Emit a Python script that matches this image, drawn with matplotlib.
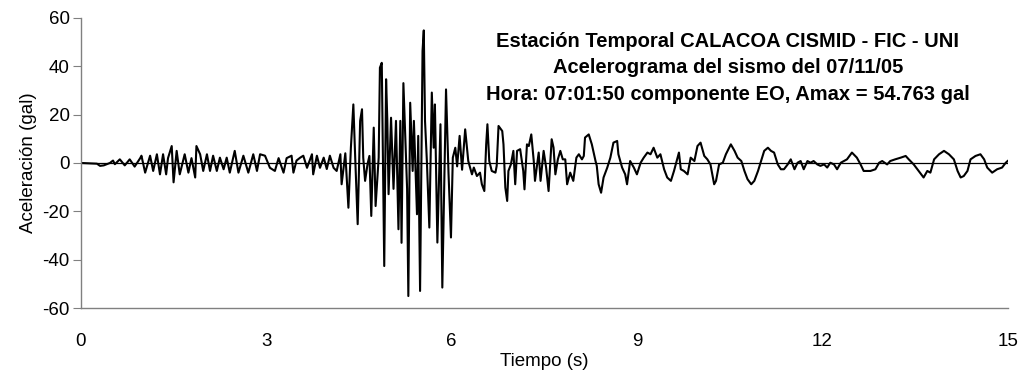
import matplotlib
matplotlib.use("Agg")
import matplotlib.pyplot as plt

plt.rcParams['font.family'] = ['Liberation Sans', 'DejaVu Sans']
plt.rcParams['axes.unicode_minus'] = False

# Digitised accelerogram (time in s, acceleration in gal)
time_s = [
    0.00, 0.26, 0.31, 0.37, 0.47, 0.52, 0.55, 0.63, 0.71, 0.79, 0.87, 0.96,
    0.98, 1.04, 1.12, 1.17, 1.23, 1.28, 1.33, 1.38, 1.41, 1.47, 1.50, 1.55,
    1.60, 1.68, 1.74, 1.79, 1.85, 1.87, 1.93, 1.98, 2.04, 2.09, 2.14, 2.20,
    2.25, 2.31, 2.36, 2.41, 2.49, 2.55, 2.63, 2.71, 2.79, 2.85, 2.90, 2.98,
    3.06, 3.14, 3.20, 3.28, 3.33, 3.41, 3.44, 3.49, 3.55, 3.60, 3.66, 3.74,
    3.76, 3.82, 3.87, 3.93, 3.98, 4.03, 4.09, 4.14, 4.20, 4.22, 4.28, 4.33,
    4.37, 4.41, 4.44, 4.48, 4.52, 4.55, 4.57, 4.60, 4.64, 4.67, 4.70, 4.74,
    4.77, 4.82, 4.84, 4.87, 4.91, 4.94, 4.96, 4.98, 5.02, 5.06, 5.10, 5.14,
    5.17, 5.19, 5.22, 5.28, 5.30, 5.33, 5.37, 5.39, 5.44, 5.46, 5.49, 5.53,
    5.55, 5.57, 5.60, 5.64, 5.68, 5.71, 5.73, 5.77, 5.82, 5.85, 5.91, 5.95,
    5.99, 6.02, 6.06, 6.09, 6.13, 6.17, 6.22, 6.27, 6.33, 6.36, 6.41, 6.46,
    6.49, 6.53, 6.56, 6.58, 6.61, 6.65, 6.71, 6.73, 6.76, 6.82, 6.84, 6.87,
    6.90, 6.92, 6.96, 7.00, 7.03, 7.06, 7.11, 7.16, 7.18, 7.22, 7.25, 7.29,
    7.33, 7.35, 7.41, 7.44, 7.49, 7.53, 7.57, 7.62, 7.65, 7.68, 7.72, 7.76,
    7.80, 7.84, 7.87, 7.92, 7.97, 8.02, 8.06, 8.11, 8.14, 8.16, 8.22, 8.27,
    8.33, 8.35, 8.38, 8.42, 8.46, 8.52, 8.57, 8.62, 8.68, 8.70, 8.76, 8.81,
    8.84, 8.89, 8.95, 9.00, 9.06, 9.11, 9.17, 9.22, 9.27, 9.33, 9.38, 9.44,
    9.49, 9.55, 9.60, 9.68, 9.71, 9.76, 9.82, 9.87, 9.93, 9.98, 10.03, 10.09,
    10.14, 10.19, 10.25, 10.28, 10.33, 10.39, 10.44, 10.52, 10.58, 10.63,
    10.69, 10.74, 10.79, 10.85, 10.90, 10.96, 11.01, 11.06, 11.12, 11.17,
    11.22, 11.28, 11.33, 11.38, 11.44, 11.49, 11.55, 11.60, 11.65, 11.70,
    11.76, 11.81, 11.86, 11.92, 11.97, 12.03, 12.08, 12.13, 12.19, 12.24,
    12.30, 12.35, 12.40, 12.48, 12.56, 12.62, 12.67, 12.78, 12.86, 12.92,
    12.97, 13.05, 13.10, 13.18, 13.27, 13.35, 13.40, 13.48, 13.56, 13.64,
    13.70, 13.75, 13.81, 13.89, 13.97, 14.05, 14.13, 14.19, 14.24, 14.29,
    14.35, 14.40, 14.48, 14.56, 14.62, 14.67, 14.75, 14.83, 14.91, 14.97,
    15.00,
]
accel_gal = [
    0.0, -0.3, -1.2, -1.0, 0.0, 1.0, -0.5, 1.5, -1.0, 1.5, -1.5, 2.0,
    3.0, -4.0, 3.0, -3.3, 3.6, -4.7, 3.6, -4.7, 2.0, 7.0, -8.0, 5.0,
    -4.7, 3.6, -4.0, 2.0, -6.0, 7.0, 3.6, -3.3, 3.6, -3.3, 3.0, -3.3,
    2.2, -2.6, 2.2, -4.0, 5.0, -4.0, 3.0, -4.0, 3.6, -3.3, 3.6, 3.0,
    -2.0, -3.3, 2.0, -4.0, 2.0, 3.0, -4.0, 1.0, 2.2, 3.0, -2.0, 3.6,
    -4.7, 3.0, -2.0, 2.2, -2.5, 3.0, -2.0, -3.3, 3.6, -8.8, 4.0, -18.5,
    6.3, 24.2, 2.2, -25.3, 17.4, 22.2, 2.2, -7.4, -0.4, 2.9, -21.9, 14.6,
    -17.8, 2.2, 39.4, 41.4, -42.6, 34.6, 17.4, -12.9, 18.7, -10.7, 17.4, -27.4,
    17.4, -33.0, 33.0, -10.7, -55.0, 24.9, -3.3, 17.4, -21.2, 11.2, -52.9, 46.3,
    54.8, 17.4, 0.8, -26.7, 29.1, 6.3, 24.2, -32.9, 16.0, -51.5, 30.4, -4.0,
    -30.8, 2.2, 6.3, -1.4, 11.2, -2.8, 13.9, 0.8, -4.7, -1.9, -5.4, -4.0,
    -8.8, -11.6, 7.7, 16.0, 0.8, -3.3, -4.0, -1.2, 15.3, 13.2, 7.7, -10.2,
    -15.7, -3.3, -0.6, 5.0, -8.8, 5.0, 5.7, -3.3, -10.9, 7.7, 7.0, 11.8,
    0.8, -7.4, 4.3, -7.4, 5.0, -1.9, -11.6, 9.8, 6.4, -4.7, 1.5, 5.0,
    1.5, 1.5, -8.8, -4.0, -7.4, 2.2, 3.6, 1.5, 2.9, 10.5, 11.8, 7.7,
    0.8, -1.2, -8.8, -12.3, -6.0, -1.9, 2.2, 8.4, 9.1, 3.6, -1.9, -4.7,
    -8.8, 0.8, -1.9, -4.7, 0.1, 2.2, 4.3, 3.6, 6.3, 2.2, 3.6, -2.6,
    -6.0, -7.4, -3.3, 4.3, -2.6, -3.3, -4.7, 2.2, 0.8, 7.0, 8.4, 2.9,
    1.5, -0.6, -8.8, -7.4, -0.6, 0.1, 3.6, 7.7, 5.0, 2.2,
    0.8, -3.3, -6.7, -8.8, -7.4, -3.3, 0.8, 5.0, 6.3, 5.0,
    4.3, -0.6, -2.6, -2.6, -0.6, 1.5, -2.6, 0.1, 0.8, -2.6,
    0.8, 0.1, 0.8, -0.6, -1.2, -0.6, -1.9, 0.1, -0.6, -2.6,
    0.1, 0.8, 1.5, 4.3, 2.2, -0.6, -3.3, -3.3, -2.6, 0.1,
    0.8, -0.6, 0.8, 1.5, 2.2, 2.9, 1.5, -0.6, -3.3, -6.0,
    -3.3, -4.0, 1.5, 3.6, 5.0, 3.6, 1.5, -3.3, -6.0, -5.4,
    -3.3, 1.5, 2.9, 3.6, 1.5, -1.9, -4.0, -2.6, -1.9, 0.1,
    0.8,
]
x_ticks = [0, 3, 6, 9, 12, 15]
y_ticks = [-60, -40, -20, 0, 20, 40, 60]
title_lines = [
    "Estación Temporal CALACOA CISMID - FIC - UNI",
    "Acelerograma del sismo del 07/11/05",
    "Hora: 07:01:50 componente EO, Amax = 54.763 gal",
]

fig = plt.figure(figsize=(10.24, 3.79), dpi=100)
ax = fig.add_axes([0.079, 0.187, 0.905, 0.766])

ax.axhline(0, color='black', linewidth=0.9, zorder=1)
ax.plot(time_s, accel_gal, color='black', linewidth=1.5, zorder=2)

ax.set_xlim(0, 15)
ax.set_ylim(-60, 60)
ax.set_xticks(x_ticks)
ax.set_yticks(y_ticks)
ax.tick_params(axis='x', length=0, pad=18, labelsize=13.5)
ax.tick_params(axis='y', length=6, width=0.8, color='#808080', pad=2, labelsize=13.5)

for side in ['top', 'right']:
    ax.spines[side].set_visible(False)
for side in ['left', 'bottom']:
    ax.spines[side].set_color('#808080')
    ax.spines[side].set_linewidth(1.0)

ax.set_xlabel("Tiempo (s)", fontsize=13.5, labelpad=2)
ax.set_ylabel("Aceleración (gal)", fontsize=13.5, labelpad=4)

for i, line in enumerate(title_lines):
    ax.text(0.698, 0.918 - i * 0.0905, line, transform=ax.transAxes,
            ha='center', va='center', fontsize=14.5, fontweight='bold')

fig.savefig("out.png", dpi=100)
